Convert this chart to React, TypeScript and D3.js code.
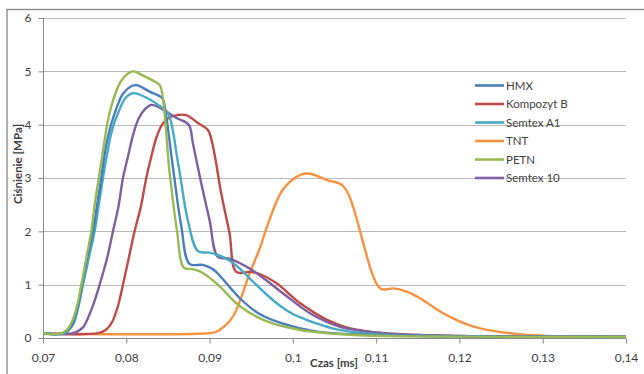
import React, { useEffect, useRef } from "react";
import * as d3 from "d3";

// [czas ms, ciśnienie MPa]
const hmx = [
  [0.07, 0.09], [0.0725, 0.09], [0.0735, 0.25], [0.0741, 0.55], [0.0747, 1.0], [0.0753, 1.5],
  [0.076, 2.0], [0.0765, 2.5], [0.077, 3.0], [0.0774, 3.45], [0.078, 3.9], [0.0788, 4.3],
  [0.0796, 4.58], [0.0806, 4.72], [0.0813, 4.74], [0.0828, 4.62], [0.0843, 4.5], [0.0845, 4.43],
  [0.0856, 3.2], [0.0866, 2.1], [0.0876, 1.39], [0.0892, 1.37], [0.0905, 1.28], [0.0915, 1.12],
  [0.0936, 0.75], [0.096, 0.45], [0.0988, 0.27], [0.1029, 0.12], [0.1089, 0.06], [0.12, 0.03],
  [0.14, 0.02],
];
const kompozytB = [
  [0.07, 0.09], [0.0766, 0.09], [0.0776, 0.16], [0.0783, 0.3], [0.079, 0.6], [0.0796, 1.0],
  [0.0803, 1.5], [0.081, 2.0], [0.0818, 2.5], [0.0824, 3.0], [0.083, 3.4], [0.0836, 3.75],
  [0.0843, 4.0], [0.0851, 4.13], [0.0861, 4.18], [0.0872, 4.18], [0.0886, 4.03], [0.0898, 3.9],
  [0.0904, 3.6], [0.0914, 2.71], [0.0924, 1.96], [0.0932, 1.24], [0.0949, 1.24], [0.096, 1.2],
  [0.098, 1.03], [0.1009, 0.65], [0.1041, 0.34], [0.1069, 0.18], [0.1109, 0.09], [0.12, 0.04],
  [0.14, 0.025],
];
const semtexA1 = [
  [0.07, 0.09], [0.0726, 0.09], [0.0736, 0.25], [0.0742, 0.55], [0.0748, 1.0], [0.0755, 1.5],
  [0.0762, 2.0], [0.0767, 2.5], [0.0772, 3.0], [0.0777, 3.45], [0.0783, 3.9], [0.0791, 4.25],
  [0.0799, 4.5], [0.0808, 4.59], [0.0825, 4.5], [0.0841, 4.34], [0.085, 4.22], [0.0862, 3.3],
  [0.0874, 2.2], [0.0886, 1.63], [0.09, 1.6], [0.0916, 1.52], [0.0932, 1.36], [0.0948, 1.12],
  [0.0968, 0.82], [0.0985, 0.6], [0.1, 0.45], [0.1015, 0.35], [0.1029, 0.27], [0.105, 0.17],
  [0.1069, 0.12], [0.1109, 0.06], [0.12, 0.03], [0.14, 0.02],
];
const tnt = [
  [0.07, 0.08], [0.0888, 0.08], [0.0905, 0.1], [0.0912, 0.15], [0.0928, 0.4], [0.0948, 1.21],
  [0.0961, 1.71], [0.0969, 2.09], [0.0988, 2.78], [0.1009, 3.06], [0.1021, 3.08], [0.1041, 2.96],
  [0.1061, 2.84], [0.1105, 0.93], [0.1121, 0.93], [0.1135, 0.88], [0.115, 0.77], [0.1165, 0.62],
  [0.118, 0.47], [0.1195, 0.35], [0.121, 0.25], [0.1225, 0.18], [0.125, 0.11], [0.1275, 0.065],
  [0.1305, 0.04], [0.1365, 0.025], [0.14, 0.02],
];
const petn = [
  [0.07, 0.09], [0.0723, 0.09], [0.0732, 0.22], [0.074, 0.55], [0.0746, 1.0], [0.0752, 1.5],
  [0.0758, 2.0], [0.0762, 2.5], [0.0767, 3.0], [0.0772, 3.5], [0.0777, 4.0], [0.0784, 4.45],
  [0.0793, 4.8], [0.0802, 4.96], [0.0809, 5.0], [0.082, 4.92], [0.0837, 4.78], [0.0841, 4.72],
  [0.0852, 3.1], [0.0861, 2.0], [0.0869, 1.32], [0.088, 1.29], [0.0892, 1.22], [0.091, 1.0],
  [0.0936, 0.6], [0.0969, 0.31], [0.1009, 0.15], [0.1069, 0.06], [0.115, 0.03], [0.14, 0.02],
];
const semtex10 = [
  [0.07, 0.09], [0.0736, 0.09], [0.0748, 0.2], [0.0756, 0.45], [0.0762, 0.7], [0.0768, 1.0],
  [0.0777, 1.5], [0.0784, 2.0], [0.0791, 2.5], [0.0796, 3.0], [0.0802, 3.4], [0.0808, 3.8],
  [0.0815, 4.12], [0.0823, 4.3], [0.083, 4.37], [0.0841, 4.31], [0.0861, 4.12], [0.0875, 4.0],
  [0.088, 3.65], [0.089, 2.9], [0.09, 2.21], [0.091, 1.52], [0.0924, 1.49], [0.0944, 1.34],
  [0.0958, 1.2], [0.0988, 0.84], [0.1021, 0.46], [0.1057, 0.21], [0.1109, 0.09], [0.12, 0.04],
  [0.14, 0.025],
];

const seriesNames = ["HMX", "Kompozyt B", "Semtex A1", "TNT", "PETN", "Semtex 10"];
const seriesData = [hmx, kompozytB, semtexA1, tnt, petn, semtex10];
const seriesColors = ["#4A7EBB", "#BE4B48", "#46AAC5", "#F69240", "#98B954", "#7D60A0"];
// draw order, so the overlaps look like the picture
const drawOrder = [3, 1, 5, 2, 0, 4];

const xTicks = [0.07, 0.08, 0.09, 0.1, 0.11, 0.12, 0.13, 0.14];
const yTicks = [0, 1, 2, 3, 4, 5, 6];

const W = 644;
const H = 374;
const FONT = "Lato, 'Liberation Sans', sans-serif";

export default function App() {
  const ref = useRef<SVGSVGElement>(null);

  useEffect(() => {
    const svg = d3.select(ref.current);
    svg.selectAll("*").remove();

    const x = d3.scaleLinear().domain([0.07, 0.14]).range([43, 626]);
    const y = d3.scaleLinear().domain([0, 6]).range([338, 18]);

    // outer chart border
    svg
      .append("rect")
      .attr("x", 7)
      .attr("y", 9.5)
      .attr("width", 660)
      .attr("height", 400)
      .attr("fill", "white")
      .attr("stroke", "#868686")
      .attr("stroke-width", 1.3);

    // gridlines
    svg
      .append("g")
      .selectAll("line")
      .data(yTicks.slice(1))
      .enter()
      .append("line")
      .attr("x1", 43)
      .attr("x2", 626)
      .attr("y1", (d) => Math.round(y(d)) + 0.5)
      .attr("y2", (d) => Math.round(y(d)) + 0.5)
      .attr("stroke", "#b8b8b8")
      .attr("stroke-width", 1);

    // y axis
    const yAxis = svg
      .append("g")
      .attr("transform", "translate(43.5,0)")
      .call(
        d3
          .axisLeft(y)
          .tickValues(yTicks)
          .tickSize(5)
          .tickPadding(7)
          .tickFormat(d3.format("d"))
      );
    yAxis.select(".domain").attr("stroke", "#888").attr("d", "M0,18V338");
    yAxis.selectAll(".tick line").attr("stroke", "#888");
    yAxis
      .selectAll("text")
      .attr("fill", "#404040")
      .style("font-family", FONT)
      .style("font-size", "12px");

    // x axis
    const xAxis = svg
      .append("g")
      .attr("transform", "translate(0,338.5)")
      .call(
        d3
          .axisBottom(x)
          .tickValues(xTicks)
          .tickSize(5)
          .tickPadding(10)
          .tickFormat((d) => String(d).replace(".", ","))
      );
    xAxis.select(".domain").attr("stroke", "#888").attr("d", "M43,0H626");
    xAxis.selectAll(".tick line").attr("stroke", "#888");
    xAxis
      .selectAll("text")
      .attr("fill", "#404040")
      .style("font-family", FONT)
      .style("font-size", "12px");

    // lines
    const line = d3
      .line<number[]>()
      .x((d) => x(d[0]))
      .y((d) => y(d[1]))
      .curve(d3.curveCatmullRom.alpha(0.5));

    svg
      .append("g")
      .selectAll("path")
      .data(drawOrder)
      .enter()
      .append("path")
      .attr("d", (i) => line(seriesData[i]))
      .attr("fill", "none")
      .attr("stroke", (i) => seriesColors[i])
      .attr("stroke-width", 2.4)
      .attr("stroke-linejoin", "round");

    // legend
    const legend = svg
      .append("g")
      .selectAll("g")
      .data(seriesNames)
      .enter()
      .append("g")
      .attr("transform", (d, i) => `translate(475,${85.5 + i * 18.5})`);
    legend
      .append("line")
      .attr("x1", 0)
      .attr("x2", 29)
      .attr("stroke", (d, i) => seriesColors[i])
      .attr("stroke-width", 2.6);
    legend
      .append("text")
      .attr("x", 31)
      .attr("y", 4)
      .attr("fill", "#404040")
      .style("font-family", FONT)
      .style("font-size", "11.5px")
      .text((d) => d);

    // axis titles
    svg
      .append("text")
      .attr("transform", "translate(22,164) rotate(-90)")
      .attr("text-anchor", "middle")
      .attr("fill", "#404040")
      .style("font-family", FONT)
      .style("font-size", "11.5px")
      .style("font-weight", "bold")
      .text("Ciśnienie [MPa]");
    svg
      .append("text")
      .attr("x", 334)
      .attr("y", 367)
      .attr("text-anchor", "middle")
      .attr("fill", "#404040")
      .style("font-family", FONT)
      .style("font-size", "11.5px")
      .style("font-weight", "bold")
      .text("Czas [ms]");
  }, []);

  return (
    <svg
      ref={ref}
      width={W}
      height={H}
      style={{ position: "absolute", left: 0, top: 0, background: "white" }}
    ></svg>
  );
}
